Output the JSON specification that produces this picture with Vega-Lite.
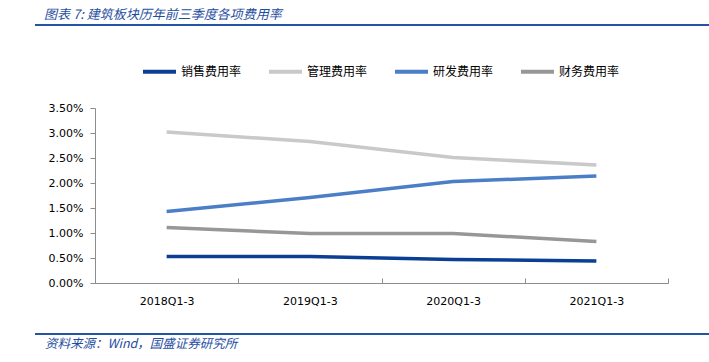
{
  "$schema": "https://vega.github.io/schema/vega-lite/v6.json",
  "padding": {"left": 35, "top": 9, "right": 0, "bottom": 5},
  "background": "white",
  "spacing": 27,
  "config": {"view": {"stroke": null}, "font": "DejaVu Sans"},
  "resolve": {"legend": {"color": "independent"}},
  "vconcat": [
    {
      "width": 674,
      "height": 2,
      "view": {"fill": "#2454A4", "stroke": null},
      "title": {"text": "图表 7:  建筑板块历年前三季度各项费用率", "anchor": "start", "font": "Noto Sans CJK SC", "fontSize": 13, "fontStyle": "italic", "fontWeight": "normal", "color": "#1F4E9F", "offset": 2, "dx": 9},
      "data": {"values": []},
      "mark": "text",
      "encoding": {}
    },
    {
      "width": 633,
      "height": 175,
      "data": {"values": [
        {"period": "2018Q1-3", "series": "销售费用率", "value": 0.0053},
        {"period": "2019Q1-3", "series": "销售费用率", "value": 0.0053},
        {"period": "2020Q1-3", "series": "销售费用率", "value": 0.0047},
        {"period": "2021Q1-3", "series": "销售费用率", "value": 0.0044},
        {"period": "2018Q1-3", "series": "管理费用率", "value": 0.0302},
        {"period": "2019Q1-3", "series": "管理费用率", "value": 0.0283},
        {"period": "2020Q1-3", "series": "管理费用率", "value": 0.0251},
        {"period": "2021Q1-3", "series": "管理费用率", "value": 0.0236},
        {"period": "2018Q1-3", "series": "研发费用率", "value": 0.0143},
        {"period": "2019Q1-3", "series": "研发费用率", "value": 0.0171},
        {"period": "2020Q1-3", "series": "研发费用率", "value": 0.0203},
        {"period": "2021Q1-3", "series": "研发费用率", "value": 0.0214},
        {"period": "2018Q1-3", "series": "财务费用率", "value": 0.0111},
        {"period": "2019Q1-3", "series": "财务费用率", "value": 0.0099},
        {"period": "2020Q1-3", "series": "财务费用率", "value": 0.0099},
        {"period": "2021Q1-3", "series": "财务费用率", "value": 0.0083}
      ]},
      "mark": {"type": "line", "strokeWidth": 3.5},
      "encoding": {
        "x": {
          "field": "period", "type": "nominal", "sort": null,
          "scale": {"type": "band", "paddingInner": 0, "paddingOuter": 0, "range": [60, 633]},
          "axis": {"title": null, "labelAngle": 0, "tickBand": "extent", "tickSize": -5, "labelPadding": 17, "domainColor": "#8C8C8C", "tickColor": "#8C8C8C", "labelFont": "DejaVu Sans", "labelFontSize": 11, "labelColor": "#000000", "grid": false}
        },
        "y": {
          "field": "value", "type": "quantitative",
          "scale": {"domain": [0, 0.035], "nice": false},
          "axis": {"values": [0, 0.005, 0.01, 0.015, 0.02, 0.025, 0.03, 0.035], "format": ".2%", "title": null, "offset": -60, "tickSize": 5, "labelPadding": 7, "domainColor": "#8C8C8C", "tickColor": "#8C8C8C", "labelFont": "DejaVu Sans", "labelFontSize": 11, "labelColor": "#000000", "grid": false}
        },
        "color": {
          "field": "series", "type": "nominal",
          "scale": {"domain": ["销售费用率", "管理费用率", "研发费用率", "财务费用率"], "range": ["#0B3F93", "#C9C9C9", "#4A7EC6", "#979797"]},
          "legend": {"orient": "none", "legendX": 106, "legendY": -55, "direction": "horizontal", "title": null, "symbolType": "stroke", "symbolSize": 1089, "symbolStrokeWidth": 4, "labelFont": "Noto Sans CJK SC", "labelFontSize": 12, "labelColor": "#000000", "columnPadding": 19, "labelOffset": 3, "padding": 0}
        }
      }
    },
    {
      "width": 674,
      "height": 2,
      "view": {"fill": "#2454A4", "stroke": null},
      "title": {"text": "资料来源：Wind，国盛证券研究所", "orient": "bottom", "anchor": "start", "font": "Noto Sans CJK SC", "fontSize": 12.5, "fontStyle": "italic", "fontWeight": "normal", "color": "#1F4E9F", "offset": 3, "dx": 10},
      "data": {"values": []},
      "mark": "text",
      "encoding": {}
    }
  ]
}
